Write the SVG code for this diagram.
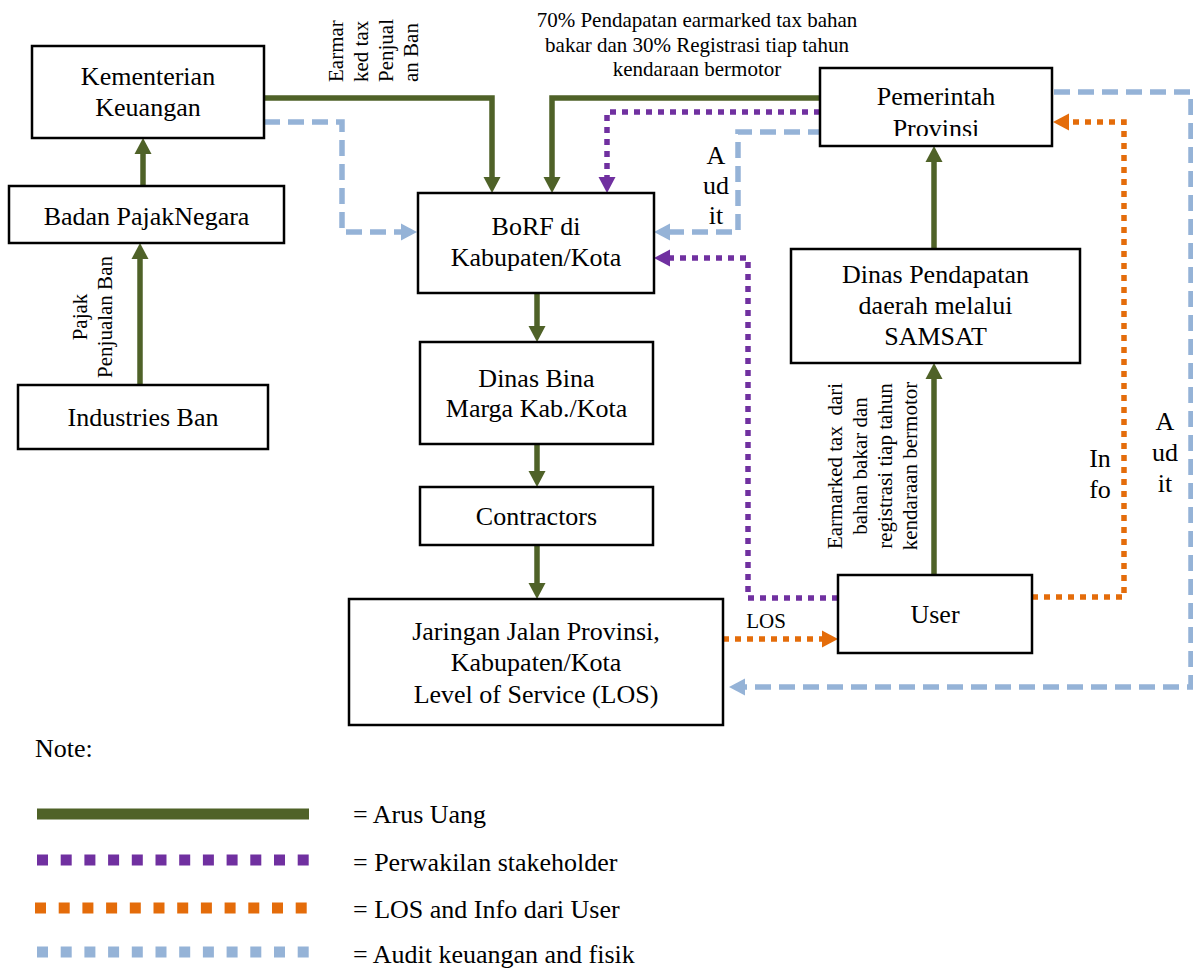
<svg xmlns="http://www.w3.org/2000/svg" width="1193" height="969" viewBox="0 0 1193 969">
<style>
.box{fill:#fff;stroke:#000;stroke-width:2.5}
.t{font-family:"Liberation Serif","Times New Roman",serif;font-size:26px;fill:#000;text-anchor:middle}
.l{font-family:"Liberation Serif","Times New Roman",serif;font-size:26px;fill:#000;text-anchor:start}
.s{font-family:"Liberation Serif","Times New Roman",serif;font-size:21px;fill:#000}
.g{fill:none;stroke:#4f6228;stroke-width:5.5}
.p{fill:none;stroke:#7030a0;stroke-width:5.5;stroke-dasharray:6 6}
.o{fill:none;stroke:#e46c0a;stroke-width:5.5;stroke-dasharray:6 6}
.b{fill:none;stroke:#95b3d7;stroke-width:5.5;stroke-dasharray:16 8}
.leg{stroke-width:11;stroke-dasharray:11 12.7}
</style>
<defs>
<marker id="ag" markerUnits="userSpaceOnUse" markerWidth="16" markerHeight="17" refX="0" refY="8.5" orient="auto" overflow="visible"><path d="M0,0 L16,8.5 L0,17 z" fill="#4f6228"/></marker>
<marker id="ap" markerUnits="userSpaceOnUse" markerWidth="16" markerHeight="17" refX="0" refY="8.5" orient="auto" overflow="visible"><path d="M0,0 L16,8.5 L0,17 z" fill="#7030a0"/></marker>
<marker id="ao" markerUnits="userSpaceOnUse" markerWidth="16" markerHeight="17" refX="0" refY="8.5" orient="auto" overflow="visible"><path d="M0,0 L16,8.5 L0,17 z" fill="#e46c0a"/></marker>
<marker id="ab" markerUnits="userSpaceOnUse" markerWidth="16" markerHeight="17" refX="0" refY="8.5" orient="auto" overflow="visible"><path d="M0,0 L16,8.5 L0,17 z" fill="#95b3d7"/></marker>
<clipPath id="clipProv"><rect x="820" y="68" width="232" height="68"/></clipPath>
</defs>

<g id="connectors">
<path class="g" d="M140,385 V259" marker-end="url(#ag)"/>
<path class="g" d="M143,186 V154" marker-end="url(#ag)"/>
<path class="g" d="M264,98 H492 V177" marker-end="url(#ag)"/>
<path class="g" d="M820,98 H552 V177" marker-end="url(#ag)"/>
<path class="g" d="M934,249 V162" marker-end="url(#ag)"/>
<path class="g" d="M934,575 V379" marker-end="url(#ag)"/>
<path class="g" d="M537,293 V326" marker-end="url(#ag)"/>
<path class="g" d="M537,444 V471" marker-end="url(#ag)"/>
<path class="g" d="M537,545 V583" marker-end="url(#ag)"/>
<path class="p" d="M820,112 H607 V177" marker-end="url(#ap)"/>
<path class="p" d="M838,598 H748 V258 H670" marker-end="url(#ap)"/>
<path class="b" d="M264,122 H342 V232 H401" marker-end="url(#ab)"/>
<path class="b" d="M824,132 H738 V232 H670" marker-end="url(#ab)"/>
<path class="b" d="M1054,92 H1191 V687 H745" marker-end="url(#ab)"/>
<path class="o" d="M1032,597 H1124 V122 H1069" marker-end="url(#ao)"/>
<path class="o" d="M723,639 H822" marker-end="url(#ao)"/>
</g>

<g id="labels">
<g class="s" text-anchor="start">
<text transform="translate(343,82) rotate(-90)">Earmar</text>
<text transform="translate(368,82) rotate(-90)">ked tax</text>
<text transform="translate(393,82) rotate(-90)">Penjual</text>
<text transform="translate(418,82) rotate(-90)">an Ban</text>
</g>
<g class="s" text-anchor="middle">
<text x="697" y="27">70% Pendapatan earmarked tax bahan</text>
<text x="697" y="52">bakar dan 30% Registrasi tiap tahun</text>
<text x="697" y="76">kendaraan bermotor</text>
<text transform="translate(87,317) rotate(-90)">Pajak</text>
<text transform="translate(112,317) rotate(-90)">Penjualan Ban</text>
<text transform="translate(842,466) rotate(-90)" xml:space="preserve">Earmarked tax  dari</text>
<text transform="translate(867,466) rotate(-90)">bahan bakar dan</text>
<text transform="translate(892,466) rotate(-90)">registrasi tiap tahun</text>
<text transform="translate(917,466) rotate(-90)">kendaraan bermotor</text>
<text x="766" y="628">LOS</text>
</g>
<g class="t">
<text x="716" y="164">A</text>
<text x="716" y="194">ud</text>
<text x="716" y="224">it</text>
<text x="1100" y="467">In</text>
<text x="1100" y="498">fo</text>
<text x="1165" y="430">A</text>
<text x="1165" y="461">ud</text>
<text x="1165" y="492">it</text>
</g>
</g>

<g id="kemenkeu"><rect class="box" x="32" y="46" width="232" height="92"/><text class="t" x="148" y="85">Kementerian</text><text class="t" x="148" y="116">Keuangan</text></g>
<g id="badan"><rect class="box" x="9" y="186" width="275" height="57"/><text class="t" x="146.5" y="225">Badan PajakNegara</text></g>
<g id="industries"><rect class="box" x="18" y="385" width="250" height="64"/><text class="t" x="143" y="426">Industries Ban</text></g>
<g id="borf"><rect class="box" x="418" y="193" width="236" height="100"/><text class="t" x="536" y="235">BoRF di</text><text class="t" x="536" y="266">Kabupaten/Kota</text></g>
<g id="binamarga"><rect class="box" x="420" y="342" width="233" height="102"/><text class="t" x="536.5" y="387">Dinas Bina</text><text class="t" x="536.5" y="417">Marga Kab./Kota</text></g>
<g id="contractors"><rect class="box" x="420" y="487" width="233" height="58"/><text class="t" x="536.5" y="525">Contractors</text></g>
<g id="jaringan"><rect class="box" x="349" y="599" width="374" height="126"/><text class="t" x="536" y="640">Jaringan Jalan Provinsi,</text><text class="t" x="536" y="671">Kabupaten/Kota</text><text class="t" x="536" y="703">Level of Service (LOS)</text></g>
<g id="pemerintah"><rect class="box" x="820" y="68" width="232" height="78"/><g clip-path="url(#clipProv)"><text class="t" x="936" y="105">Pemerintah</text><text class="t" x="936" y="137">Provinsi</text></g></g>
<g id="dinaspendapatan"><rect class="box" x="791" y="249" width="289" height="114"/><text class="t" x="935.5" y="283">Dinas Pendapatan</text><text class="t" x="935.5" y="314">daerah melalui</text><text class="t" x="935.5" y="345">SAMSAT</text></g>
<g id="user"><rect class="box" x="838" y="575" width="194" height="78"/><text class="t" x="935" y="623">User</text></g>

<g id="legend">
<text class="l" x="35" y="757">Note:</text>
<line x1="37" y1="814" x2="309" y2="814" stroke="#4f6228" stroke-width="11"/>
<line class="leg" x1="37" y1="860" x2="309" y2="860" stroke="#7030a0"/>
<line class="leg" x1="35" y1="908" x2="309" y2="908" stroke="#e46c0a"/>
<line class="leg" x1="37" y1="952" x2="309" y2="952" stroke="#95b3d7"/>
<text class="l" x="353" y="823">= Arus Uang</text>
<text class="l" x="353" y="871">= Perwakilan stakeholder</text>
<text class="l" x="353" y="918">= LOS and Info dari User</text>
<text class="l" x="353" y="963">= Audit keuangan and fisik</text>
</g>
</svg>
